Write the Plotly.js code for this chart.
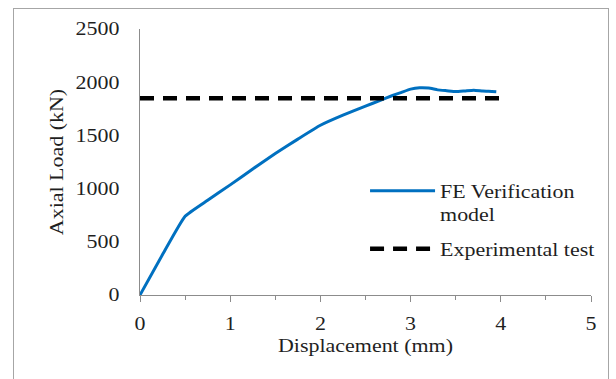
<!DOCTYPE html>
<html>
<head>
<meta charset="utf-8">
<script src="https://cdn.plot.ly/plotly-3.0.1.min.js"></script>
<style>
  html, body { margin: 0; padding: 0; background: #ffffff; }
  #frame { position: absolute; left: 13px; top: 8px; width: 596px; height: 420px; border: 1.5px solid #a6a6a6; box-sizing: border-box; }
  #chart { position: absolute; left: 0; top: 0; width: 616px; height: 379px; }
</style>
</head>
<body>
<div id="frame"></div>
<div id="chart"></div>
<script>
// FE Verification model curve (displacement mm, axial load kN)
const feDisp = [0, 0.25, 0.5, 0.75, 1.0, 1.25, 1.5, 1.75, 2.0, 2.25, 2.5, 2.65, 2.8, 2.9, 3.0, 3.1, 3.2, 3.3, 3.4, 3.5, 3.6, 3.7, 3.8, 3.9, 3.95];
const feLoad = [0, 380, 740, 890, 1035, 1185, 1330, 1465, 1595, 1690, 1775, 1825, 1875, 1905, 1935, 1948, 1945, 1928, 1920, 1912, 1918, 1925, 1917, 1913, 1910];
// Experimental test (constant load)
const expDisp = [0, 4];
const expLoad = [1850, 1850];

const names = ["FE Verification<br>model", "Experimental test"];
const xTicks = [0, 1, 2, 3, 4, 5];
const yTicks = [0, 500, 1000, 1500, 2000, 2500];

const serif = "'Liberation Serif', 'Times New Roman', serif";
const txt = "#1f1f1f";

const traces = [
  { x: feDisp, y: feLoad, name: names[0], mode: "lines", type: "scatter", legendgroup: "a",
    line: { color: "#0070C0", width: 3, shape: "spline", smoothing: 0.4 } },
  { x: expDisp, y: expLoad, name: names[1], mode: "lines", type: "scatter", legendgroup: "b",
    line: { color: "#000000", width: 4.5, dash: "14px,9px" } }
];

const layout = {
  width: 616, height: 379,
  margin: { l: 140, r: 25, t: 29, b: 84 },
  paper_bgcolor: "rgba(0,0,0,0)",
  plot_bgcolor: "rgba(0,0,0,0)",
  font: { family: serif, size: 18, color: txt },
  showlegend: true,
  legend: {
    x: 0.499, y: 0.46, xanchor: "left", yanchor: "top",
    bgcolor: "rgba(0,0,0,0)",
    font: { family: serif, size: 18, color: txt },
    itemwidth: 65, valign: "top", traceorder: "grouped", tracegroupgap: 8
  },
  xaxis: {
    range: [0, 5], tickvals: xTicks, ticktext: xTicks.map(String),
    showgrid: false, zeroline: false, showline: true, linecolor: "#8c8c8c", linewidth: 1,
    ticks: "outside", ticklen: 6, tickcolor: "#8c8c8c", tickwidth: 1, ticklabelstandoff: 6,
    minor: { dtick: 0.5, ticks: "outside", ticklen: 4, tickcolor: "#8c8c8c", showgrid: false },
    tickfont: { family: serif, size: 18, color: txt },
    title: { text: "Displacement (mm)", font: { family: serif, size: 18, color: txt }, standoff: 6 }
  },
  yaxis: {
    range: [0, 2500], tickvals: yTicks, ticktext: yTicks.map(String),
    showgrid: false, zeroline: false, showline: true, linecolor: "#8c8c8c", linewidth: 1,
    ticks: "", ticklabelstandoff: 16,
    tickfont: { family: serif, size: 18, color: txt },
    title: { text: "Axial Load (kN)", font: { family: serif, size: 18, color: txt }, standoff: 15 }
  }
};

// widen the glyphs horizontally, as in the reference picture
function stretchText(gd, factor) {
  gd.querySelectorAll("svg text").forEach(function (t) {
    const lines = t.querySelectorAll("tspan.line");
    const targets = lines.length ? Array.from(lines) : [t];
    targets.forEach(function (el) {
      const L = el.getComputedTextLength();
      if (L > 0) {
        el.setAttribute("textLength", (L * factor).toFixed(2));
        el.setAttribute("lengthAdjust", "spacingAndGlyphs");
      }
    });
  });
  // let the widened legend text show in full
  gd.querySelectorAll(".legend [clip-path], .legend[clip-path]").forEach(function (el) {
    el.removeAttribute("clip-path");
  });
}

Plotly.newPlot("chart", traces, layout, { displayModeBar: false, staticPlot: true })
  .then(function (gd) { stretchText(gd, 1.22); });
</script>
</body>
</html>
